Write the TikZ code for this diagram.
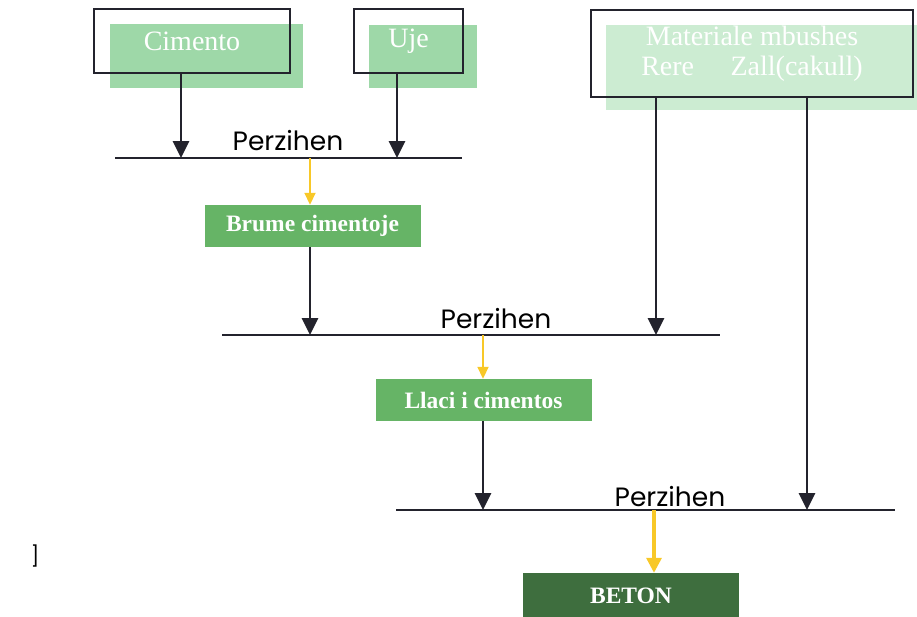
\documentclass[tikz,border=0pt]{standalone}
\usepackage{fontspec}
\setmainfont{Liberation Serif}
\newfontfamily\gothic{Poppins}
\usetikzlibrary{arrows.meta}

\definecolor{paleGreen}{RGB}{158,216,168}
\definecolor{paleGreenB}{RGB}{204,236,210}
\definecolor{midGreen}{RGB}{102,180,102}
\definecolor{darkGreen}{RGB}{62,110,62}
\definecolor{mixYellow}{RGB}{248,200,40}
\definecolor{lineBlack}{RGB}{35,35,45}

\begin{document}
\begin{tikzpicture}[x=1pt, y=-1pt]
	\tikzstyle{fillStyle}=[fill=paleGreen, inner sep=0pt]
	\tikzstyle{frameStyle}=[draw=lineBlack, line width=2.4pt, inner sep=0pt, text=white, font=\fontsize{28}{30}\selectfont]
	\tikzstyle{stepStyle}=[fill=midGreen, inner sep=0pt, minimum width=216pt, minimum height=42pt, text=white, font=\bfseries\fontsize{23.5}{25}\selectfont]
	\tikzstyle{mixStyle}=[anchor=base, inner sep=0pt, font=\gothic\fontsize{26.5}{28}\selectfont]
	\tikzstyle{blackArrow}=[-{Triangle[width=16pt, length=17pt]}, draw=lineBlack, line width=2.8pt]
	\tikzstyle{yellowArrow}=[-{Triangle[width=11pt, length=12pt]}, draw=mixYellow, fill=mixYellow, line width=1.8pt]
	\tikzstyle{mixLine}=[draw=lineBlack, line width=2.4pt]
	\useasboundingbox (0,0) rectangle (917,616);
	\node[fillStyle, minimum width=193pt, minimum height=64pt] (cimentoFill) at (206.5,56) {};
	\node[fillStyle, minimum width=108pt, minimum height=63pt] (ujeFill) at (423,56.5) {};
	\node[fillStyle, fill=paleGreenB, minimum width=312pt, minimum height=85pt] (materialeFill) at (762,67.5) {};
	\node[frameStyle, minimum width=196pt, minimum height=64pt] (cimento) at (192,41) {Cimento};
	\node[frameStyle, minimum width=109pt, minimum height=64pt] (uje) at (408.5,41) {Uje};
	\node[frameStyle, minimum width=322pt, minimum height=87pt, align=center] (materiale) at (752,53.5) {Materiale mbushes\\Rere\hspace{1.3em}Zall(cakull)};
	\node[stepStyle] (brume) at (312.5,226) {Brume cimentoje};
	\node[stepStyle] (llaci) at (483.5,400) {Llaci i cimentos};
	\node[stepStyle, fill=darkGreen, minimum height=46pt] (beton) at (631,596) {BETON};
	\node[mixStyle] (mix1) at (288,150) {Perzihen};
	\node[mixStyle] (mix2) at (496,328) {Perzihen};
	\node[mixStyle] (mix3) at (670,506) {Perzihen};
	\node[font=\gothic\fontsize{20}{22}\selectfont] (bracket) at (35,556) {]};
	% mixing lines
	\coordinate (m1w) at (115,158);
	\coordinate (m1e) at (462,158);
	\coordinate (m2w) at (222,335);
	\coordinate (m2e) at (720,335);
	\coordinate (m3w) at (396,510);
	\coordinate (m3e) at (895,510);
	\draw[mixLine] (m1w) -- (m1e);
	\draw[mixLine] (m2w) -- (m2e);
	\draw[mixLine] (m3w) -- (m3e);
	% arrow ends on the lines
	\coordinate (c1) at (181,158);
	\coordinate (u1) at (397,158);
	\coordinate (y1) at (310,158);
	\coordinate (b2) at (310,335);
	\coordinate (s2) at (656,335);
	\coordinate (y2) at (483,335);
	\coordinate (l3) at (483,510);
	\coordinate (s3) at (807,510);
	\coordinate (y3) at (654,510);
	\draw[blackArrow] (cimento.south -| c1) -- (c1);
	\draw[blackArrow] (uje.south -| u1) -- (u1);
	\draw[blackArrow] (materiale.south -| s2) -- (s2);
	\draw[blackArrow] (materiale.south -| s3) -- (s3);
	\draw[blackArrow] (brume.south -| b2) -- (b2);
	\draw[blackArrow] (llaci.south -| l3) -- (l3);
	\draw[yellowArrow] (y1) -- (brume.north -| y1);
	\draw[yellowArrow] (y2) -- (llaci.north -| y2);
	\draw[yellowArrow, line width=3.2pt, -{Triangle[width=15pt, length=15pt]}] (y3) -- (beton.north -| y3);
\end{tikzpicture}
\end{document}
